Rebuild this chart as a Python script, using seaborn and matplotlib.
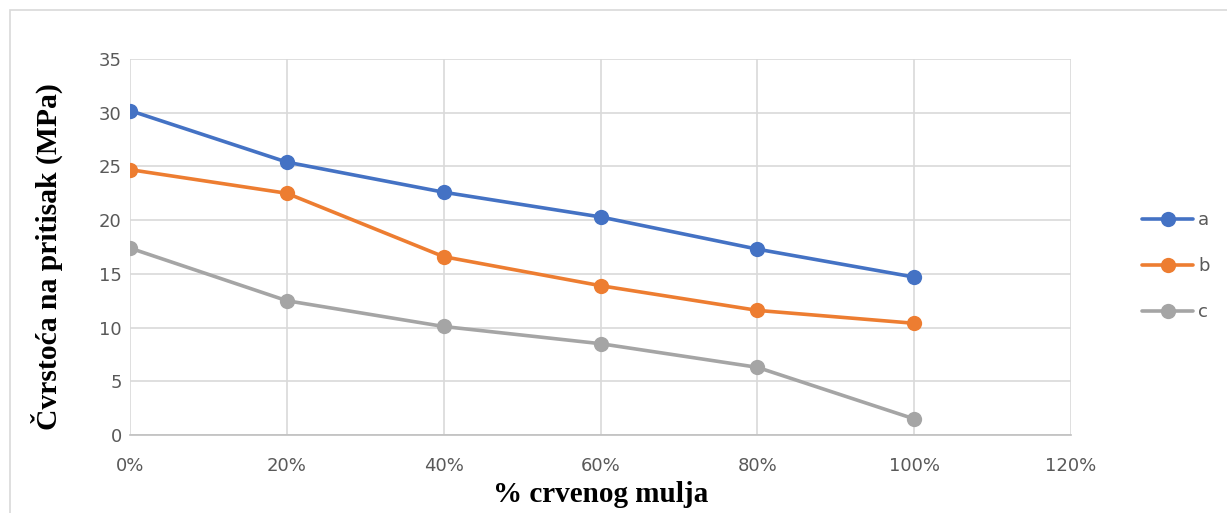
import matplotlib
matplotlib.use("Agg")
import matplotlib.pyplot as plt
from matplotlib.patches import Rectangle
from matplotlib.ticker import PercentFormatter, MultipleLocator
import seaborn as sns
import pandas as pd

# Share of red mud in the mix and compressive strength of three series
red_mud_share = [0.0, 0.2, 0.4, 0.6, 0.8, 1.0]
strength_a = [30.2, 25.4, 22.6, 20.3, 17.3, 14.7]
strength_b = [24.7, 22.5, 16.6, 13.9, 11.6, 10.4]
strength_c = [17.4, 12.5, 10.1, 8.5, 6.3, 1.5]
series_names = ["a", "b", "c"]
series_colors = ["#4472C4", "#ED7D31", "#A5A5A5"]

df = pd.DataFrame({
    "share": red_mud_share * 3,
    "strength": strength_a + strength_b + strength_c,
    "series": [s for s in series_names for _ in red_mud_share],
})

sns.set_theme(style="white")
plt.rcParams["font.family"] = ["DejaVu Sans"]

fig = plt.figure(figsize=(12.27, 5.13), dpi=100)
ax = fig.add_axes([130 / 1227, 78 / 513, 941 / 1227, 376 / 513])

sns.lineplot(
    data=df, x="share", y="strength", hue="series",
    palette=dict(zip(series_names, series_colors)),
    marker="o", markersize=11, markeredgewidth=0, linewidth=2.6,
    ax=ax, legend=False,
)

ax.set_xlim(0, 1.2)
ax.set_ylim(0, 35)
ax.xaxis.set_major_locator(MultipleLocator(0.2))
ax.yaxis.set_major_locator(MultipleLocator(5))
ax.xaxis.set_major_formatter(PercentFormatter(xmax=1.0, decimals=0))
ax.grid(True, color="#d9d9d9", linewidth=1.2)
ax.set_axisbelow(True)
for side in ["top", "right", "left"]:
    ax.spines[side].set_visible(False)
ax.spines["bottom"].set_color("#bfbfbf")
ax.spines["bottom"].set_linewidth(1.2)
ax.tick_params(axis="both", length=0, labelsize=13, colors="#595959")
ax.tick_params(axis="y", pad=6)
ax.tick_params(axis="x", pad=16)

ax.set_xlabel("% crvenog mulja", family="Liberation Serif", fontweight="bold",
              fontsize=21, color="black", labelpad=4)
ax.set_ylabel("Čvrstoća na pritisak (MPa)", family="Liberation Serif",
              fontweight="bold", fontsize=21.3, color="black")
ax.yaxis.set_label_coords(-0.071, 0.475)

# Legend with line + marker entries to the right of the plot area
handles = [plt.Line2D([], [], color=c, marker="o", markersize=11,
                      markeredgewidth=0, linewidth=2.6) for c in series_colors]
fig.legend(handles, series_names, loc="center left",
           bbox_to_anchor=(1126 / 1227, 247 / 513), frameon=False,
           fontsize=13, labelcolor="#595959", handlelength=2.8,
           handletextpad=0.3, labelspacing=1.55)

# Thin chart border
fig.patches.append(Rectangle((10 / 1227, -0.01), 1.0, (503 / 513) + 0.01,
                             transform=fig.transFigure, fill=False,
                             edgecolor="#d9d9d9", linewidth=1.2))

fig.savefig("out.png", dpi=100)
